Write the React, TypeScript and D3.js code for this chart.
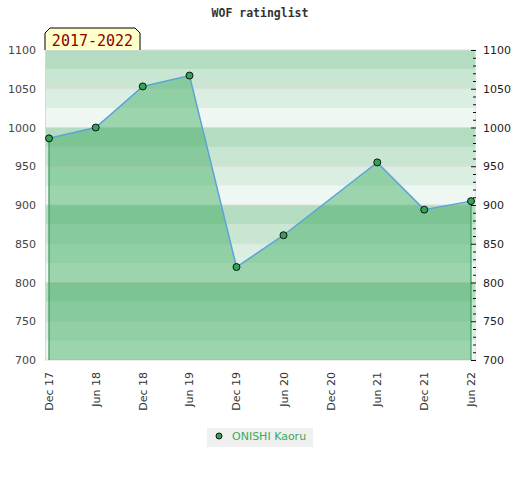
import React from 'react';
import { scaleLinear, scaleTime, area, line, range, timeFormat } from 'd3';

const title = 'WOF ratinglist';
const periodLabel = '2017-2022';
const playerName = 'ONISHI Kaoru';

const pointDates = [
  '2017-12-01', '2018-06-01', '2018-12-01', '2019-06-01', '2019-12-01',
  '2020-06-01', '2021-06-01', '2021-12-01', '2022-06-01',
];
const ratings = [986, 1000, 1053, 1067, 820, 861, 955, 894, 905];

const tickDates = [
  '2017-12-01', '2018-06-01', '2018-12-01', '2019-06-01', '2019-12-01',
  '2020-06-01', '2020-12-01', '2021-06-01', '2021-12-01', '2022-06-01',
];
const yTicks = [700, 750, 800, 850, 900, 950, 1000, 1050, 1100];

// band shades inside every 100 block, bottom to top
const bandColors = ['#eef7f1', '#dbeee2', '#c8e6d2', '#b3dcc0'];

const W = 520;
const H = 480;
const plot = { left: 45, right: 475, top: 50, bottom: 360 };

const App = () => {
  const parse = (s: string) => new Date(s + 'T00:00:00');
  const data = pointDates.map((d, i) => ({ date: parse(d), value: ratings[i] }));

  const x = scaleTime()
    .domain([parse(tickDates[0]), parse(tickDates[tickDates.length - 1])])
    .range([49, 471]);
  const y = scaleLinear().domain([700, 1100]).range([plot.bottom, plot.top]);
  const fmt = timeFormat('%b %y');

  const areaPath = area<any>()
    .x((d) => x(d.date))
    .y0(y(700))
    .y1((d) => y(d.value))(data);
  const linePath = line<any>()
    .x((d) => x(d.date))
    .y((d) => y(d.value))(data);

  const bands = range(700, 1100, 25);
  const minor = range(700, 1101, 10);
  const first = data[0];
  const last = data[data.length - 1];

  return (
    <svg width={W} height={H} style={{ position: 'absolute', left: 0, top: 0 }}>
      <rect width={W} height={H} fill='#fff' />
      <text x={260} y={17} textAnchor='middle' fontFamily='DejaVu Sans Mono' fontWeight='bold' fontSize={11.5} fill='#333'>
        {title}
      </text>

      {/* background bands */}
      {bands.map((b) => (
        <rect
          key={b}
          x={plot.left}
          y={y(b + 25)}
          width={plot.right - plot.left}
          height={y(b) - y(b + 25)}
          fill={bandColors[((b - 700) / 25) % 4]}
        />
      ))}
      {yTicks.map((t) => (
        <line key={t} x1={plot.left} x2={plot.right} y1={y(t)} y2={y(t)} stroke='#dcdcdc' strokeWidth={1} />
      ))}
      <line x1={plot.left + 0.5} x2={plot.left + 0.5} y1={plot.top} y2={plot.bottom} stroke='#d8d8d8' />
      <line x1={plot.right + 0.5} x2={plot.right + 0.5} y1={plot.top} y2={plot.bottom} stroke='#e4e4e4' />

      {/* area */}
      <path d={areaPath ?? ''} fill='rgb(58,169,93)' fillOpacity={0.46} />
      <line x1={x(first.date)} x2={x(first.date)} y1={y(first.value)} y2={y(700)} stroke='#3a9a5a' strokeWidth={1.2} />
      <line x1={x(last.date)} x2={x(last.date)} y1={y(last.value)} y2={y(700)} stroke='#3a9a5a' strokeWidth={1.2} />
      <path d={linePath ?? ''} fill='none' stroke='#5ca3d8' strokeWidth={1.5} />
      {data.map((d, i) => (
        <circle key={i} cx={x(d.date)} cy={y(d.value)} r={3.5} fill='#33a356' stroke='#111' strokeWidth={1} />
      ))}

      {/* left axis labels */}
      {yTicks.map((t) => (
        <text key={t} x={36} y={y(t) + 4} textAnchor='end' fontFamily='DejaVu Sans' fontSize={11} fill='#444'>
          {t}
        </text>
      ))}

      {/* right axis */}
      {minor.map((t) => (
        <line
          key={t}
          x1={t % 50 === 0 ? 471 : 473}
          x2={476}
          y1={y(t) + 0.5}
          y2={y(t) + 0.5}
          stroke='#111'
          strokeWidth={1}
        />
      ))}
      {yTicks.map((t) => (
        <text key={t} x={483} y={y(t) + 4} fontFamily='DejaVu Sans' fontSize={11} fill='#222'>
          {t}
        </text>
      ))}

      {/* x labels */}
      {tickDates.map((d) => {
        const tx = x(parse(d));
        return (
          <text
            key={d}
            transform={`translate(${tx + 4},372) rotate(-90)`}
            textAnchor='end'
            fontFamily='DejaVu Sans'
            fontSize={11}
            fill='#333'
          >
            {fmt(parse(d))}
          </text>
        );
      })}

      {/* period label */}
      <path d='M45,50 L45,33 L50,28 L135,28 L140,33 L140,50' fill='#ffffcc' stroke='#000' strokeWidth={1} />
      <text x={92.5} y={46} textAnchor='middle' fontFamily='DejaVu Sans Mono' fontSize={15} fill='#8b0000'>
        {periodLabel}
      </text>

      {/* legend */}
      <rect x={207} y={428} width={106} height={19} fill='#f0f0f0' />
      <circle cx={219} cy={436} r={3} fill='#33a356' stroke='#111' strokeWidth={1} />
      <text x={232} y={440} fontFamily='DejaVu Sans' fontSize={11} fill='#3aa95d'>
        {playerName}
      </text>
    </svg>
  );
};

export default App;
